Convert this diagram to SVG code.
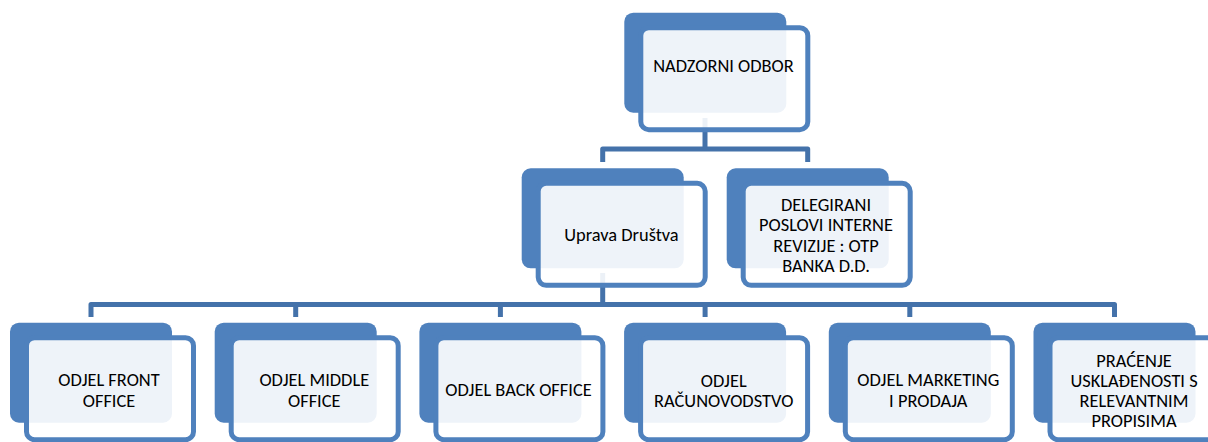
<svg xmlns="http://www.w3.org/2000/svg" width="1208" height="442" viewBox="0 0 1208 442">
<style>
.back{fill:#4F81BD;}
.front{fill:#FFFFFF;fill-opacity:0.9;stroke:#4F81BD;stroke-width:5;}
.conn{fill:none;stroke:#4472AA;stroke-width:5;stroke-linejoin:round;}
text{font-family:Carlito,Calibri,Lato,"Liberation Sans",sans-serif;font-size:18.4px;fill:#000;text-anchor:middle;}
</style>
<rect width="1208" height="442" fill="#FFFFFF"/>
<g id="connectors">
<path class="conn" d="M705,118 V149 M602.7,162 V149 H807.7 V162"/>
<path class="conn" d="M602.7,273 V304.5 M91,317 V304.5 H1114.5 V317 M295.7,304.5 V317 M500.4,304.5 V317 M705.1,304.5 V317 M909.8,304.5 V317"/>
</g>
<g id="node-nadzorni">
<rect class="back" x="624.3" y="12.7" width="162" height="100" rx="9"/>
<rect class="front" x="640.8" y="27.7" width="167" height="102" rx="8"/>
<text x="723.5" y="72.3">NADZORNI ODBOR</text>
</g>
<g id="node-uprava">
<rect class="back" x="521.7" y="168.3" width="162" height="100" rx="9"/>
<rect class="front" x="538.2" y="183.3" width="167" height="102" rx="8"/>
<text x="621.5" y="240.7">Uprava Društva</text>
</g>
<g id="node-delegirani">
<rect class="back" x="726.7" y="168.3" width="162" height="100" rx="9"/>
<rect class="front" x="743.2" y="183.3" width="167" height="102" rx="8"/>
<text x="826" y="210.7">DELEGIRANI</text>
<text x="826" y="231.3">POSLOVI INTERNE</text>
<text x="826" y="251.8">REVIZIJE : OTP</text>
<text x="826" y="272.3">BANKA D.D.</text>
</g>
<g id="node-front-office">
<rect class="back" x="10" y="322.7" width="162" height="100" rx="9"/>
<rect class="front" x="26.5" y="337.7" width="167" height="102" rx="8"/>
<text x="109" y="386">ODJEL FRONT</text>
<text x="109" y="406.5">OFFICE</text>
</g>
<g id="node-middle-office">
<rect class="back" x="214.7" y="322.7" width="162" height="100" rx="9"/>
<rect class="front" x="231.2" y="337.7" width="167" height="102" rx="8"/>
<text x="314.3" y="386">ODJEL MIDDLE</text>
<text x="314.3" y="406.5">OFFICE</text>
</g>
<g id="node-back-office">
<rect class="back" x="419.4" y="322.7" width="162" height="100" rx="9"/>
<rect class="front" x="435.9" y="337.7" width="167" height="102" rx="8"/>
<text x="518.5" y="396">ODJEL BACK OFFICE</text>
</g>
<g id="node-racunovodstvo">
<rect class="back" x="624.1" y="322.7" width="162" height="100" rx="9"/>
<rect class="front" x="640.6" y="337.7" width="167" height="102" rx="8"/>
<text x="723.7" y="386.5">ODJEL</text>
<text x="723.7" y="406.7">RAČUNOVODSTVO</text>
</g>
<g id="node-marketing">
<rect class="back" x="828.8" y="322.7" width="162" height="100" rx="9"/>
<rect class="front" x="845.3" y="337.7" width="167" height="102" rx="8"/>
<text x="928.3" y="386">ODJEL MARKETING</text>
<text x="928.3" y="406.5">I PRODAJA</text>
</g>
<g id="node-pracenje">
<rect class="back" x="1033.5" y="322.7" width="162" height="100" rx="9"/>
<rect class="front" x="1050" y="337.7" width="167" height="102" rx="8"/>
<text x="1134" y="366.7">PRAĆENJE</text>
<text x="1134" y="386.7">USKLAĐENOSTI S</text>
<text x="1134" y="406.7">RELEVANTNIM</text>
<text x="1134" y="426.7">PROPISIMA</text>
</g>
</svg>
